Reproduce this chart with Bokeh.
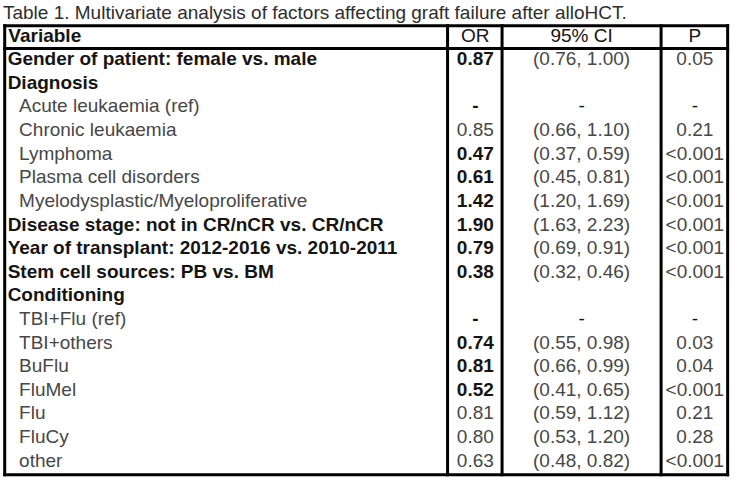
from bokeh.plotting import figure
from bokeh.models import Range1d, ColumnDataSource
from bokeh.core.properties import value
from bokeh.embed import file_html
from bokeh.resources import INLINE

# ---------------- data ----------------
title_text = "Table 1. Multivariate analysis of factors affecting graft failure after alloHCT."
headers = ["Variable", "OR", "95% CI", "P"]
variables = [
    "Gender of patient: female vs. male",
    "Diagnosis",
    "Acute leukaemia (ref)",
    "Chronic leukaemia",
    "Lymphoma",
    "Plasma cell disorders",
    "Myelodysplastic/Myeloproliferative",
    "Disease stage: not in CR/nCR vs. CR/nCR",
    "Year of transplant: 2012-2016 vs. 2010-2011",
    "Stem cell sources: PB vs. BM",
    "Conditioning",
    "TBI+Flu (ref)",
    "TBI+others",
    "BuFlu",
    "FluMel",
    "Flu",
    "FluCy",
    "other",
]
is_heading = [1, 1, 0, 0, 0, 0, 0, 1, 1, 1, 1, 0, 0, 0, 0, 0, 0, 0]
or_vals = ["0.87", "", "-", "0.85", "0.47", "0.61", "1.42", "1.90", "0.79", "0.38",
           "", "-", "0.74", "0.81", "0.52", "0.81", "0.80", "0.63"]
or_bold = [1, 0, 1, 0, 1, 1, 1, 1, 1, 1, 0, 1, 1, 1, 1, 0, 0, 0]
ci_vals = ["(0.76, 1.00)", "", "-", "(0.66, 1.10)", "(0.37, 0.59)", "(0.45, 0.81)",
           "(1.20, 1.69)", "(1.63, 2.23)", "(0.69, 0.91)", "(0.32, 0.46)", "", "-",
           "(0.55, 0.98)", "(0.66, 0.99)", "(0.41, 0.65)", "(0.59, 1.12)",
           "(0.53, 1.20)", "(0.48, 0.82)"]
p_vals = ["0.05", "", "-", "0.21", "<0.001", "<0.001", "<0.001", "<0.001", "<0.001",
          "<0.001", "", "-", "0.03", "0.04", "<0.001", "0.21", "0.28", "<0.001"]

# ---------------- layout ----------------
FONT = value("Liberation Sans")
FS = "19px"
DARK = "#151515"
GRAY = "#474747"

col_edges = [4.3, 456.8, 512.5, 675.0, 743.0]
top_y, head_y, bottom_y = 26.0, 49.7, 490.0
row_step = 24.4
base0 = 42.6          # baseline of header row
CAP = 6.8             # half cap height: baseline -> visual middle
x_head, x_ind = 7.3, 19.0
or_c = (col_edges[1] + col_edges[2]) / 2 + 0.5
ci_c = (col_edges[2] + col_edges[3]) / 2
p_c = (col_edges[3] + col_edges[4]) / 2 + 0.5

p = figure(width=734, height=481, output_backend="svg", toolbar_location=None,
           x_range=Range1d(0, 750), y_range=Range1d(497, 0),
           min_border=0, min_border_left=0, min_border_right=0,
           min_border_top=0, min_border_bottom=0)
p.axis.visible = False
p.grid.visible = False
p.outline_line_color = None
p.background_fill_color = "white"
p.border_fill_color = "white"

TB = "middle"

# title
p.text(x=[2.5], y=[19.0 - CAP], text=[title_text], text_font=FONT, text_font_size=FS,
       text_color="#2e2e2e", text_baseline=TB, text_align="left")

# borders
n = len(variables)
for xe in col_edges:
    p.segment(x0=[xe], y0=[top_y - 1.5], x1=[xe], y1=[bottom_y + 1.5],
              line_color="#000000", line_width=3)
for ye in (top_y, head_y, bottom_y):
    p.segment(x0=[col_edges[0] - 1.5], y0=[ye], x1=[col_edges[-1] + 1.5], y1=[ye],
              line_color="#000000", line_width=3)

# header row
p.text(x=[x_head + 0.7], y=[base0 - CAP], text=[headers[0]], text_font=FONT, text_font_size=FS,
       text_font_style="bold", text_color=DARK, text_baseline=TB, text_align="left")
p.text(x=[or_c, ci_c, p_c], y=[base0 - CAP] * 3, text=headers[1:], text_font=FONT,
       text_font_size=FS, text_color=DARK, text_baseline=TB, text_align="center")

ys = [base0 + row_step * (i + 1) - CAP for i in range(n)]

# variable column
hx = [x_head for i in range(n) if is_heading[i]]
hy = [ys[i] for i in range(n) if is_heading[i]]
ht = [variables[i] for i in range(n) if is_heading[i]]
p.text(x=hx, y=hy, text=ht, text_font=FONT, text_font_size=FS, text_font_style="bold",
       text_color=DARK, text_baseline=TB, text_align="left")
ix = [x_ind for i in range(n) if not is_heading[i]]
iy = [ys[i] for i in range(n) if not is_heading[i]]
it = [variables[i] for i in range(n) if not is_heading[i]]
p.text(x=ix, y=iy, text=it, text_font=FONT, text_font_size=FS,
       text_color=GRAY, text_baseline=TB, text_align="left")

# OR column
bsrc = ColumnDataSource(dict(x=[or_c] * sum(or_bold),
                             y=[ys[i] for i in range(n) if or_bold[i]],
                             t=[or_vals[i] for i in range(n) if or_bold[i]]))
p.text(x="x", y="y", text="t", source=bsrc, text_font=FONT, text_font_size=FS,
       text_font_style="bold", text_color=DARK, text_baseline=TB, text_align="center")
rsrc = ColumnDataSource(dict(x=[or_c] * (n - sum(or_bold)),
                             y=[ys[i] for i in range(n) if not or_bold[i]],
                             t=[or_vals[i] for i in range(n) if not or_bold[i]]))
p.text(x="x", y="y", text="t", source=rsrc, text_font=FONT, text_font_size=FS,
       text_color=GRAY, text_baseline=TB, text_align="center")

# CI and P columns
ci_color = [DARK if v == "-" else GRAY for v in ci_vals]
p.text(x=[ci_c] * n, y=ys, text=ci_vals, text_font=FONT, text_font_size=FS,
       text_color=ci_color, text_baseline=TB, text_align="center")
p_color = [DARK if v == "-" else GRAY for v in p_vals]
p.text(x=[p_c] * n, y=ys, text=p_vals, text_font=FONT, text_font_size=FS,
       text_color=p_color, text_baseline=TB, text_align="center")

open("out.html", "w").write(file_html(p, INLINE))
